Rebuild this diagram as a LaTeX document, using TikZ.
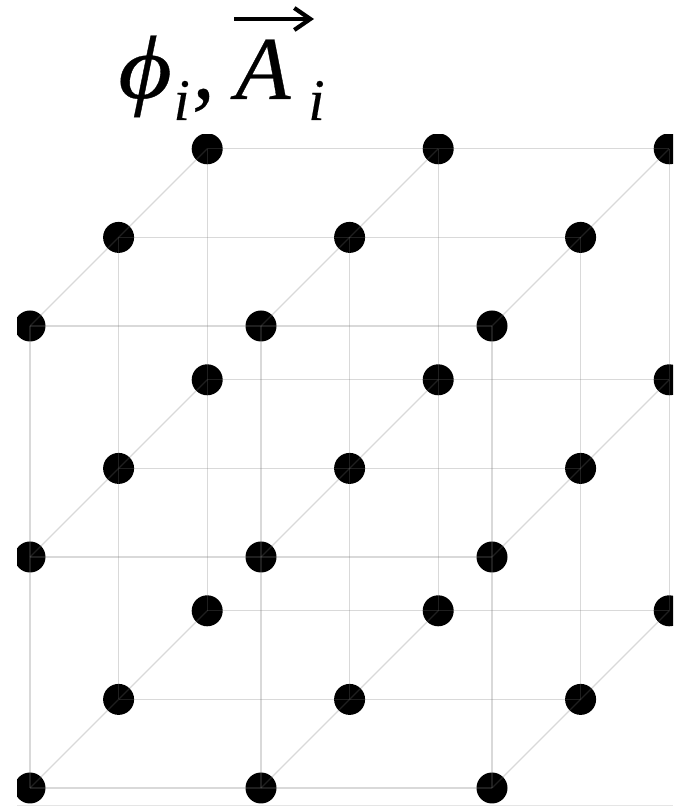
\documentclass[tikz,border=0pt]{standalone}
\usepackage{fontspec}
\setmainfont{Liberation Serif}[ItalicFeatures={FakeBold=0.35}]
\usepackage{tikz}
\usetikzlibrary{arrows.meta, positioning}

\begin{document}
\begin{tikzpicture}[
    node distance=5cm and 5cm,
    site/.style={circle, fill=black, inner sep=0pt, outer sep=0pt, minimum size=0.775cm},
    bond/.style={draw=black!55, opacity=0.27, line width=0.9pt},
    big/.style={inner sep=0pt, font=\fontsize{64}{64}\selectfont\itshape},
    small/.style={inner sep=0pt, font=\fontsize{42}{42}\selectfont\itshape},
]
\useasboundingbox (0,0) rectangle (16.825,20.175);
\begin{scope}
\clip (0.425,0.05) rectangle (16.825,16.8);
% front layer
\node[site] (f11) at (0.75,0.475) {};
\node[site, right=of f11] (f21) {};
\node[site, right=of f21] (f31) {};
\node[site, above=of f11] (f12) {};
\node[site, right=of f12] (f22) {};
\node[site, right=of f22] (f32) {};
\node[site, above=of f12] (f13) {};
\node[site, right=of f13] (f23) {};
\node[site, right=of f23] (f33) {};
% middle layer
\node[site, right=1.44cm of f11, yshift=2.215cm] (m11) {};
\node[site, right=of m11] (m21) {};
\node[site, right=of m21] (m31) {};
\node[site, above=of m11] (m12) {};
\node[site, right=of m12] (m22) {};
\node[site, right=of m22] (m32) {};
\node[site, above=of m12] (m13) {};
\node[site, right=of m13] (m23) {};
\node[site, right=of m23] (m33) {};
% back layer
\node[site, right=1.44cm of m11, yshift=2.215cm] (b11) {};
\node[site, right=of b11] (b21) {};
\node[site, right=of b21] (b31) {};
\node[site, above=of b11] (b12) {};
\node[site, right=of b12] (b22) {};
\node[site, right=of b22] (b32) {};
\node[site, above=of b12] (b13) {};
\node[site, right=of b13] (b23) {};
\node[site, right=of b23] (b33) {};
% rows
\draw[bond] (f11.center) -- (f21.center) -- (f31.center);
\draw[bond] (f12.center) -- (f22.center) -- (f32.center);
\draw[bond] (f13.center) -- (f23.center) -- (f33.center);
\draw[bond] (m11.center) -- (m21.center) -- (m31.center);
\draw[bond] (m12.center) -- (m22.center) -- (m32.center);
\draw[bond] (m13.center) -- (m23.center) -- (m33.center);
\draw[bond] (b11.center) -- (b21.center) -- (b31.center);
\draw[bond] (b12.center) -- (b22.center) -- (b32.center);
\draw[bond] (b13.center) -- (b23.center) -- (b33.center);
% columns
\draw[bond] (f11.center) -- (f12.center) -- (f13.center);
\draw[bond] (f21.center) -- (f22.center) -- (f23.center);
\draw[bond] (f31.center) -- (f32.center) -- (f33.center);
\draw[bond] (m11.center) -- (m12.center) -- (m13.center);
\draw[bond] (m21.center) -- (m22.center) -- (m23.center);
\draw[bond] (m31.center) -- (m32.center) -- (m33.center);
\draw[bond] (b11.center) -- (b12.center) -- (b13.center);
\draw[bond] (b21.center) -- (b22.center) -- (b23.center);
\draw[bond] (b31.center) -- (b32.center) -- (b33.center);
% depth
\draw[bond] (f11.center) -- (m11.center) -- (b11.center);
\draw[bond] (f21.center) -- (m21.center) -- (b21.center);
\draw[bond] (f31.center) -- (m31.center) -- (b31.center);
\draw[bond] (f12.center) -- (m12.center) -- (b12.center);
\draw[bond] (f22.center) -- (m22.center) -- (b22.center);
\draw[bond] (f32.center) -- (m32.center) -- (b32.center);
\draw[bond] (f13.center) -- (m13.center) -- (b13.center);
\draw[bond] (f23.center) -- (m23.center) -- (b23.center);
\draw[bond] (f33.center) -- (m33.center) -- (b33.center);
\end{scope}
% bottom edge
\coordinate (edgeL) at (0.425,0.05);
\coordinate (edgeR) at (16.825,0.05);
\draw[draw=black!10, line width=0.7pt] (edgeL) -- (edgeR);
% label
\node[big, anchor=base west, xscale=1.15] (phi) at (2.95,17.725) {ϕ};
\node[small, anchor=base west] (subi) at (4.33,17.175) {i};
\node[big, anchor=base west] (comma) at (4.8,17.725) {,};
\node[big, anchor=base west] (vecA) at (5.88,17.7) {A};
\node[small, anchor=base west] (veci) at (7.7,17.175) {i};
\coordinate (tail) at (5.85,19.7);
\coordinate (tip) at (7.85,19.7);
\draw[-{Straight Barb[length=0.4cm, width=0.55cm]}, line width=3pt] (tail) -- (tip);
\end{tikzpicture}
\end{document}
